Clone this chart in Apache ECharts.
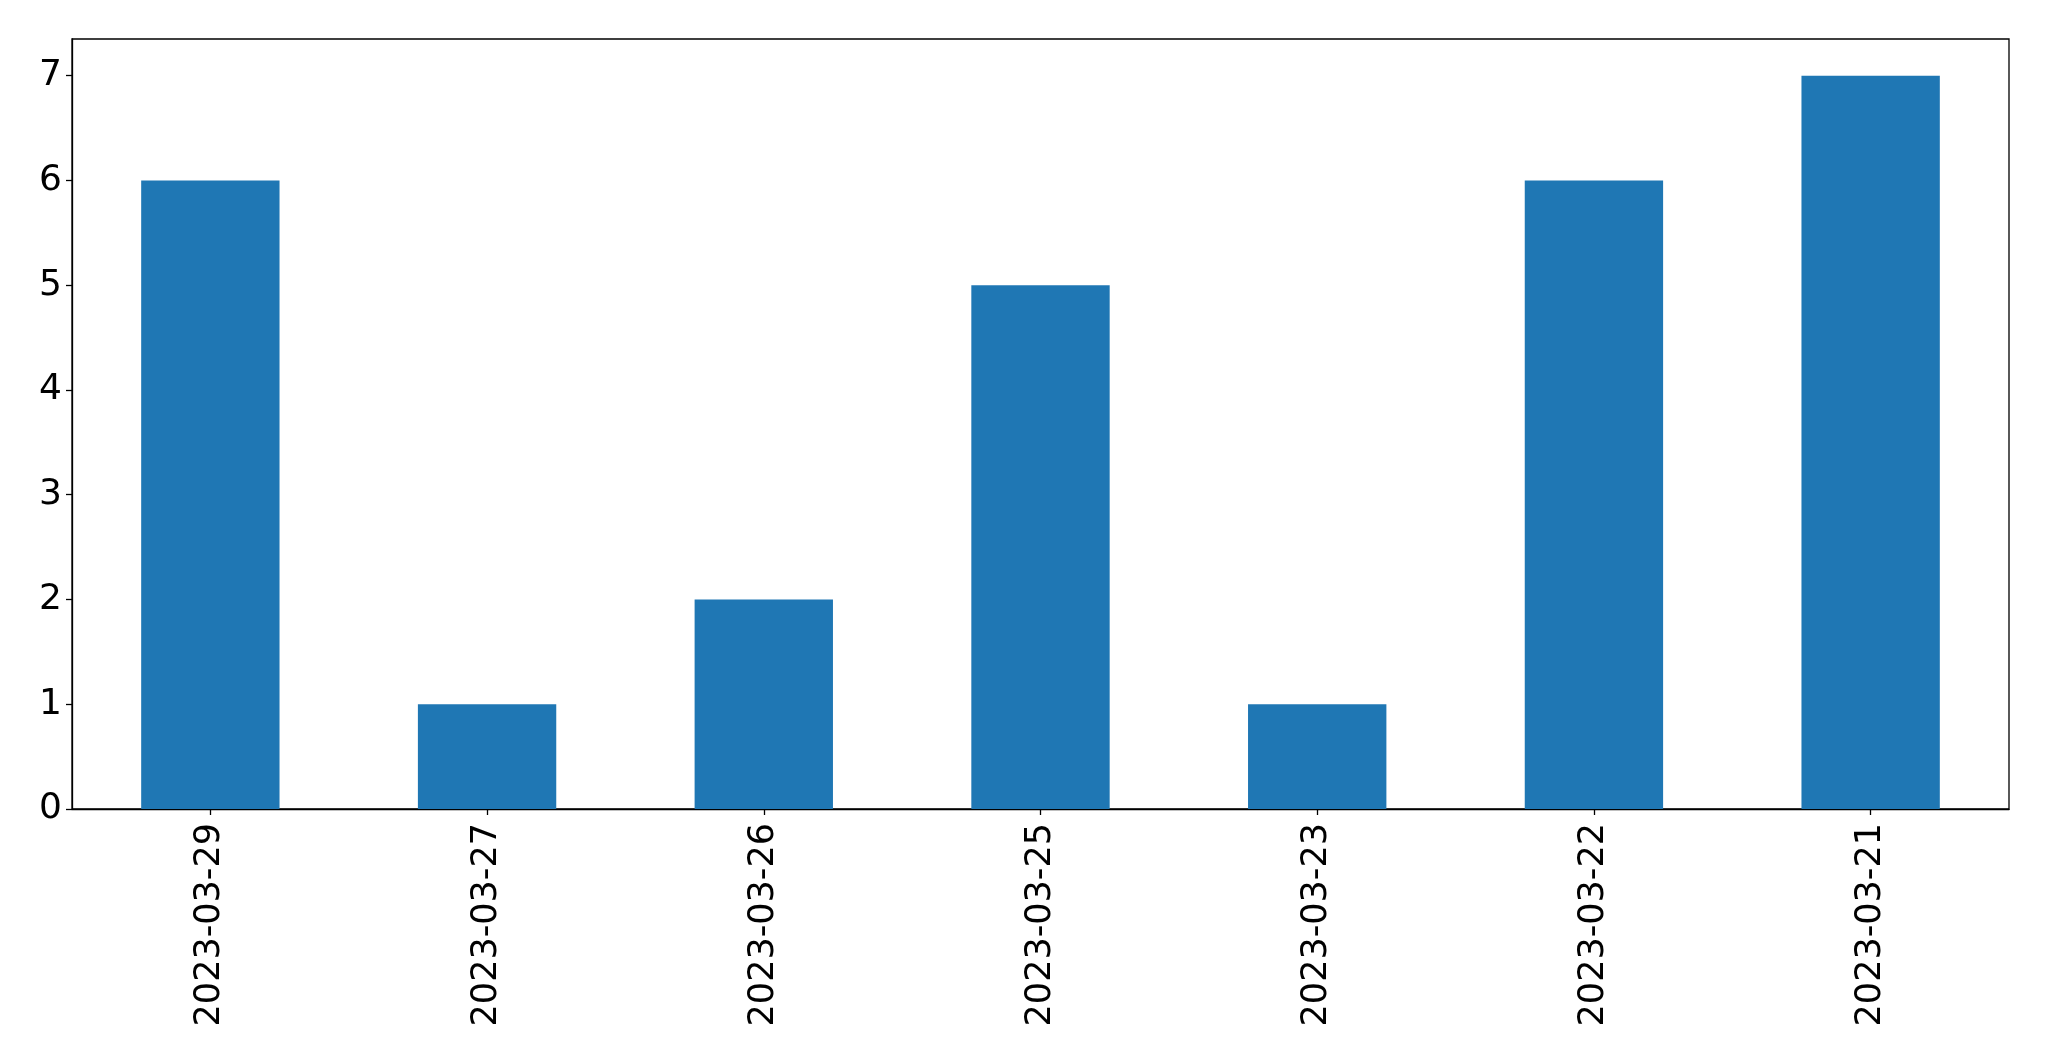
<!DOCTYPE html>
<html>
<head>
<meta charset="utf-8">
<script src="https://cdn.jsdelivr.net/npm/echarts@6/dist/echarts.min.js"></script>
<style>html,body{margin:0;padding:0;background:#fff}#c{width:2049px;height:1061px}</style>
</head>
<body>
<div id="c"></div>
<script>
const categories = ["2023-03-29","2023-03-27","2023-03-26","2023-03-25","2023-03-23","2023-03-22","2023-03-21"];
const values = [6,1,2,5,1,6,7];
const yMax = 7.35;

const chart = echarts.init(document.getElementById('c'), null, {renderer:'canvas'});
const font = 'DejaVu Sans';
chart.setOption({
  animation:false,
  backgroundColor:'#fff',
  grid:{left:72,right:40,top:39,bottom:252,show:true,borderColor:'#000',borderWidth:1.3,backgroundColor:'transparent'},
  xAxis:{
    type:'category',data:categories,boundaryGap:true,
    axisLine:{show:true,lineStyle:{color:'#000',width:1.3}},
    axisTick:{show:true,alignWithLabel:true,length:6,lineStyle:{color:'#000',width:1.3}},
    axisLabel:{rotate:90,fontFamily:font,fontSize:35,color:'#000',margin:14,interval:0},
    splitLine:{show:false}
  },
  yAxis:{
    type:'value',min:0,max:yMax,interval:1,
    axisLine:{show:true,lineStyle:{color:'#000',width:1.3}},
    axisTick:{show:true,length:6,lineStyle:{color:'#000',width:1.3}},
    axisLabel:{fontFamily:font,fontSize:36,color:'#000',margin:10,showMaxLabel:false,
      formatter:v=>Number.isInteger(v)?String(v):''},
    splitLine:{show:false}
  },
  series:[{type:'bar',data:values,barWidth:'50%',itemStyle:{color:'#1f77b4'}}]
});
</script>
</body>
</html>
